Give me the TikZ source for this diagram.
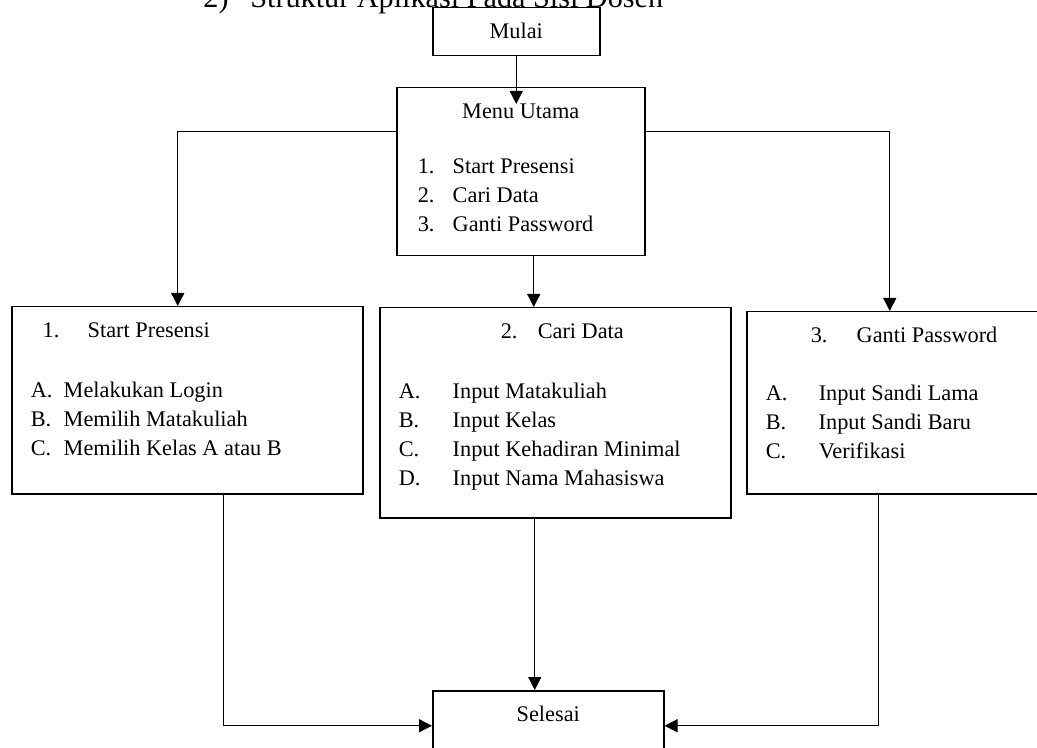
\documentclass[tikz,border=0pt]{standalone}
\usepackage{fontspec}
\setmainfont{Liberation Serif}
\usepackage{tikz}
\usetikzlibrary{arrows.meta}

\newcommand{\isikotak}[3]{\parbox[t][#2][t]{#1}{\rule{0pt}{15.25pt}#3}}
\newcommand{\butir}[4]{\hspace*{#1}\makebox[#2][l]{#3}#4}

\begin{document}
\begin{tikzpicture}[
  x=0.5pt,y=-0.5pt,
  every node/.style={font=\fontsize{11.15}{14.6}\selectfont},
  blok/.style={rectangle,draw,line width=0.75pt,inner sep=0pt,anchor=north west},
  judul/.style={font=\fontsize{15.1}{18}\selectfont,inner sep=0pt,anchor=base west},
  panah/.style={-{Triangle[length=6.5pt,width=6.5pt]},line width=0.65pt}
]
\useasboundingbox (0,0) rectangle (1037,748);

\node[judul] (judul) at (203,8) {\makebox[23.5pt][l]{2)}Struktur Aplikasi Pada Sisi Dosen};

\node[blok] (mulai) at (432,7) {\isikotak{83.5pt}{24pt}{\makebox[\linewidth]{Mulai}}};
\node[blok] (menu) at (396,87) {\isikotak{124pt}{84pt}{\makebox[\linewidth]{Menu Utama}\\[12.9pt]
  \butir{10.5pt}{17.5pt}{1.}{Start Presensi}\\
  \butir{10.5pt}{17.5pt}{2.}{Cari Data}\\
  \butir{10.5pt}{17.5pt}{3.}{Ganti Password}}};

\node[blok] (p1) at (11,306) {\isikotak{175.5pt}{93.5pt}{\butir{15.5pt}{22.5pt}{1.}{Start Presensi}\\[15.4pt]
  \butir{9.5pt}{16.5pt}{A.}{Melakukan Login}\\
  \butir{9.5pt}{16.5pt}{B.}{Memilih Matakuliah}\\
  \butir{9.5pt}{16.5pt}{C.}{Memilih Kelas A atau B}}};
\node[blok] (p2) at (379,307) {\isikotak{175.5pt}{105pt}{\butir{60.5pt}{18.5pt}{2.}{Cari Data}\\[15.4pt]
  \butir{9.5pt}{27pt}{A.}{Input Matakuliah}\\
  \butir{9.5pt}{27pt}{B.}{Input Kelas}\\
  \butir{9.5pt}{27pt}{C.}{Input Kehadiran Minimal}\\
  \butir{9.5pt}{27pt}{D.}{Input Nama Mahasiswa}}};
\node[blok] (p3) at (746,311) {\isikotak{150pt}{91pt}{\butir{32pt}{23pt}{3.}{Ganti Password}\\[14.4pt]
  \butir{9.5pt}{26.5pt}{A.}{Input Sandi Lama}\\
  \butir{9.5pt}{26.5pt}{B.}{Input Sandi Baru}\\
  \butir{9.5pt}{26.5pt}{C.}{Verifikasi}}};

\node[blok] (selesai) at (432,690) {\isikotak{115.5pt}{35pt}{\makebox[\linewidth]{Selesai}}};

% alur dari atas ke menu lalu ke tiap fitur
\draw[panah] (mulai.south) -- ([yshift=-8.5pt]mulai.south |- menu.north);
\draw[panah] ([yshift=20pt]menu.west) -| ([xshift=-4.75pt]p1.north);
\draw[panah] ([xshift=6.5pt]menu.south) -- ([xshift=6.5pt]menu.south |- p2.north);
\draw[panah] ([yshift=20pt]menu.east) -| ([xshift=-3.5pt]p3.north);

% semua fitur berakhir di selesai
\draw[panah] ([xshift=18.25pt]p1.south) |- (selesai.west);
\draw[panah] ([xshift=-10.25pt]p2.south) -- ([xshift=-10.25pt]p2.south |- selesai.north);
\draw[panah] ([xshift=-9pt]p3.south) |- (selesai.east);
\end{tikzpicture}
\end{document}
